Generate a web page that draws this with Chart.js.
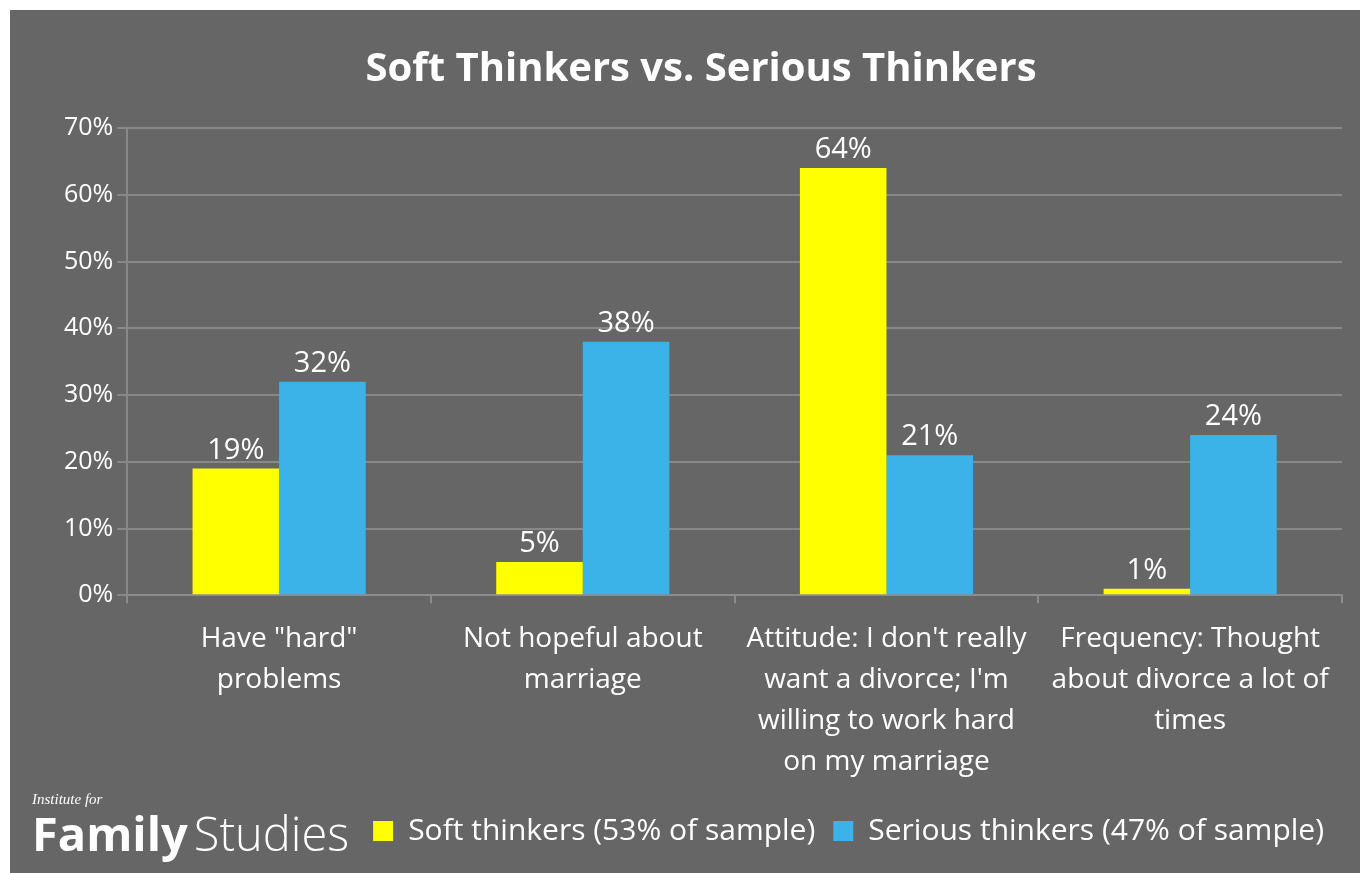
<!DOCTYPE html>
<html>
<head>
<meta charset="utf-8">
<script src="https://cdn.jsdelivr.net/npm/chart.js@4"></script>
<style>
  html, body { margin: 0; padding: 0; background: #fff; }
  #wrap { position: absolute; left: 10px; top: 10px; width: 1350px; height: 863px; background: #666666; }
  #logo { position: absolute; left: 22px; top: 781px; color: #fff; }
  #logo .inst { font-family: "Liberation Serif", serif; font-style: italic; font-size: 15px; }
  #logo .fam { font-family: "Open Sans", sans-serif; font-size: 47px; line-height: 50px; margin-top: 0px; }
  #logo .fam b { font-weight: 700; }
  #logo .fam span { font-weight: 300; margin-left: 6px; }
</style>
</head>
<body>
<div id="wrap">
  <canvas id="chart" width="1350" height="863"></canvas>
  <div id="logo"><div class="inst">Institute for</div><div class="fam"><b>Family</b><span>Studies</span></div></div>
</div>
<script>
const categories = [
  ['Have "hard"', 'problems'],
  ['Not hopeful about', 'marriage'],
  ["Attitude: I don't really", "want a divorce; I'm", 'willing to work hard', 'on my marriage'],
  ['Frequency: Thought', 'about divorce a lot of', 'times']
];
const softThinkers = [19, 5, 64, 1];
const seriousThinkers = [32, 38, 21, 24];
const seriesNames = ['Soft thinkers (53% of sample)', 'Serious thinkers (47% of sample)'];
const yTicks = [0, 10, 20, 30, 40, 50, 60, 70];

const FONT = '"Open Sans", Lato, sans-serif';

// value labels above the bars
const valueLabels = {
  id: 'valueLabels',
  afterDatasetsDraw(chart) {
    const ctx = chart.ctx;
    ctx.save();
    ctx.fillStyle = '#ffffff';
    ctx.font = '29px ' + FONT;
    ctx.textAlign = 'center';
    ctx.textBaseline = 'alphabetic';
    chart.data.datasets.forEach((ds, i) => {
      chart.getDatasetMeta(i).data.forEach((bar, j) => {
        ctx.fillText(ds.data[j] + '%', bar.x, bar.y - 10);
      });
    });
    ctx.restore();
  }
};

new Chart(document.getElementById('chart'), {
  type: 'bar',
  data: {
    labels: categories,
    datasets: [
      { label: seriesNames[0], data: softThinkers, backgroundColor: '#ffff00' },
      { label: seriesNames[1], data: seriousThinkers, backgroundColor: '#3bb3e8' }
    ]
  },
  options: {
    responsive: false,
    animation: false,
    devicePixelRatio: 1,
    layout: { padding: { left: 50, right: 18, top: 0, bottom: 17 } },
    datasets: { bar: { categoryPercentage: 0.57, barPercentage: 1.0 } },
    scales: {
      x: {
        grid: { drawOnChartArea: false, drawTicks: true, tickLength: 8, color: '#8c8c8c', lineWidth: 2 },
        border: { color: '#8c8c8c', width: 2 },
        ticks: { color: '#ffffff', font: { family: FONT, size: 28, lineHeight: 1.47 }, maxRotation: 0, autoSkip: false, padding: 15 }
      },
      y: {
        min: 0, max: 70,
        afterBuildTicks: (axis) => { axis.ticks = yTicks.map(v => ({ value: v })); },
        grid: { color: '#888888', lineWidth: 2, tickLength: 10 },
        border: { color: '#888888', width: 2 },
        ticks: { color: '#ffffff', font: { family: FONT, size: 25 }, padding: 4, callback: v => v + '%' }
      }
    },
    plugins: {
      title: {
        display: true,
        text: 'Soft Thinkers vs. Serious Thinkers',
        color: '#ffffff',
        font: { family: FONT, size: 40, weight: 'bold' },
        padding: { top: 36, bottom: 34 }
      },
      legend: {
        position: 'bottom',
        align: 'end',
        labels: { color: '#ffffff', font: { family: FONT, size: 30 }, boxWidth: 20, boxHeight: 20, padding: 18 }
      },
      tooltip: { enabled: false }
    }
  },
  plugins: [valueLabels]
});
</script>
</body>
</html>
